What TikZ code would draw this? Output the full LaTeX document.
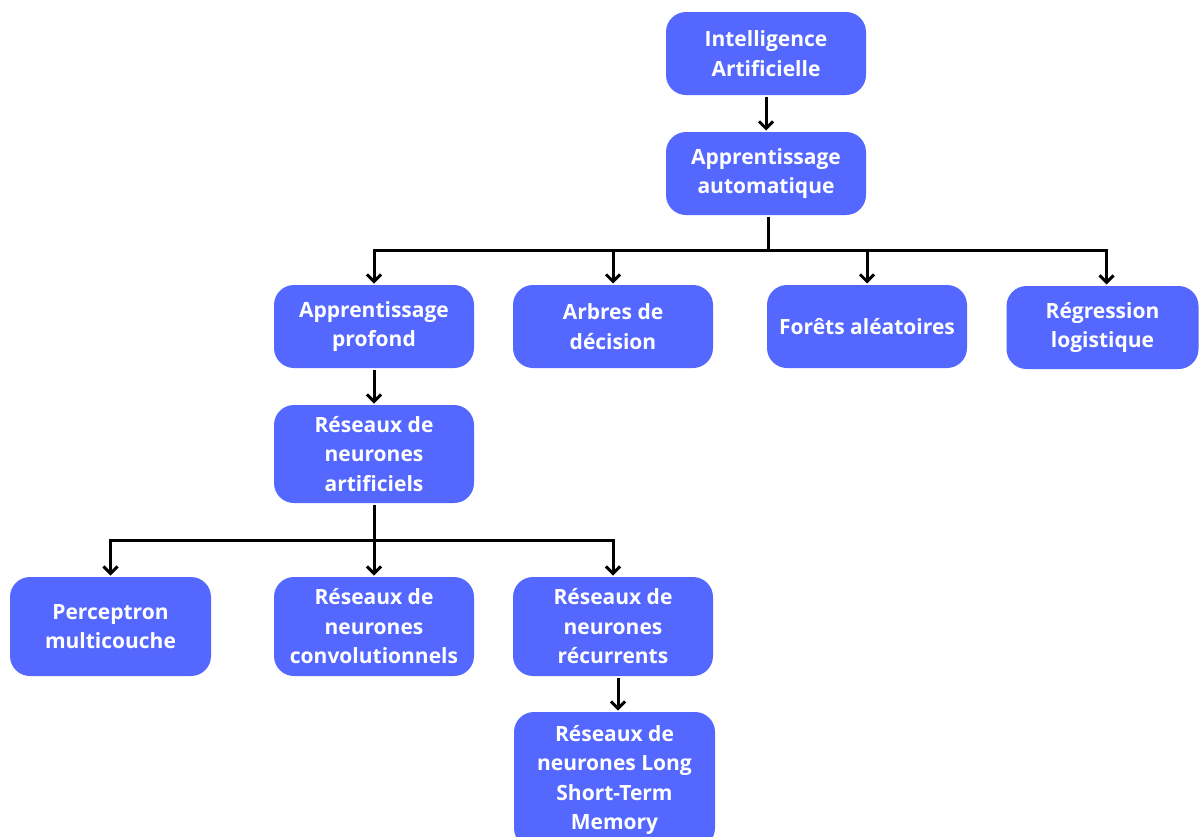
\documentclass[tikz,border=0pt]{standalone}
\usepackage{fontspec}
\setmainfont{Open Sans}
\usetikzlibrary{arrows.meta,positioning}
\definecolor{boxblue}{HTML}{5468FF}
\begin{document}
\begin{tikzpicture}
		[x=1pt,y=1pt,line width=3pt,>={Straight Barb[length=7pt,width=14pt]},
		main node/.style={shape=rectangle,rounded corners=20pt,fill=boxblue,text=white,
			minimum width=200pt,minimum height=83pt,align=center,inner sep=0pt,
			font=\fontsize{21}{29.5}\selectfont\bfseries}]
		\fill[white] (0,0) rectangle (1199,-836);
		\useasboundingbox (0,0) rectangle (1199,-836);
		
		\node [main node] (1) at (766,-53.5) {Intelligence\\Artificielle};
		\node [main node] (2) at (766,-173.5) {Apprentissage\\automatique};
		
		\node [main node] (3) at (374,-326.5) {Apprentissage\\profond};
		\node [main node] (4) at (613,-326.5) {Arbres de\\décision};
		\node [main node] (5) at (867,-326.5) {Forêts aléatoires};
		\node [main node,minimum width=192pt] (6) at (1102.5,-327.5) {Régression\\logistique};
		
		\node [main node,minimum height=98pt] (7) at (374,-454) {Réseaux de\\neurones\\artificiels};
		
		\node [main node,minimum width=201pt,minimum height=99pt] (8) at (110.5,-626.5) {Perceptron\\multicouche};
		\node [main node,minimum height=99pt] (9) at (374,-626.5) {Réseaux de\\neurones\\convolutionnels};
		\node [main node,minimum height=99pt] (10) at (613,-626.5) {Réseaux de\\neurones\\récurrents};
		\node [main node,minimum width=201pt,minimum height=136pt] (11) at (614.5,-780) {Réseaux de\\neurones Long\\Short-Term\\Memory};
		
		\coordinate (b1) at (768,-250);
		\coordinate (b2) at (374,-540);
		
		\draw[->] (1) -- (2);
		\draw (2.south -| b1) -- (b1);
		\draw[->] (b1) -| (3);
		\draw[->] (b1) -| (4);
		\draw[->] (b1) -| (5);
		\draw[->] (b1) -| ([xshift=4pt]6.north);
		
		\draw[->] (3) -- (7);
		\draw (7) -- (b2);
		\draw[->] (b2) -| (8);
		\draw[->] (b2) -- (9);
		\draw[->] (b2) -| (10);
		\draw[->] ([xshift=5pt]10.south) -- ([xshift=3.5pt]11.north);
		
\end{tikzpicture}
\end{document}
